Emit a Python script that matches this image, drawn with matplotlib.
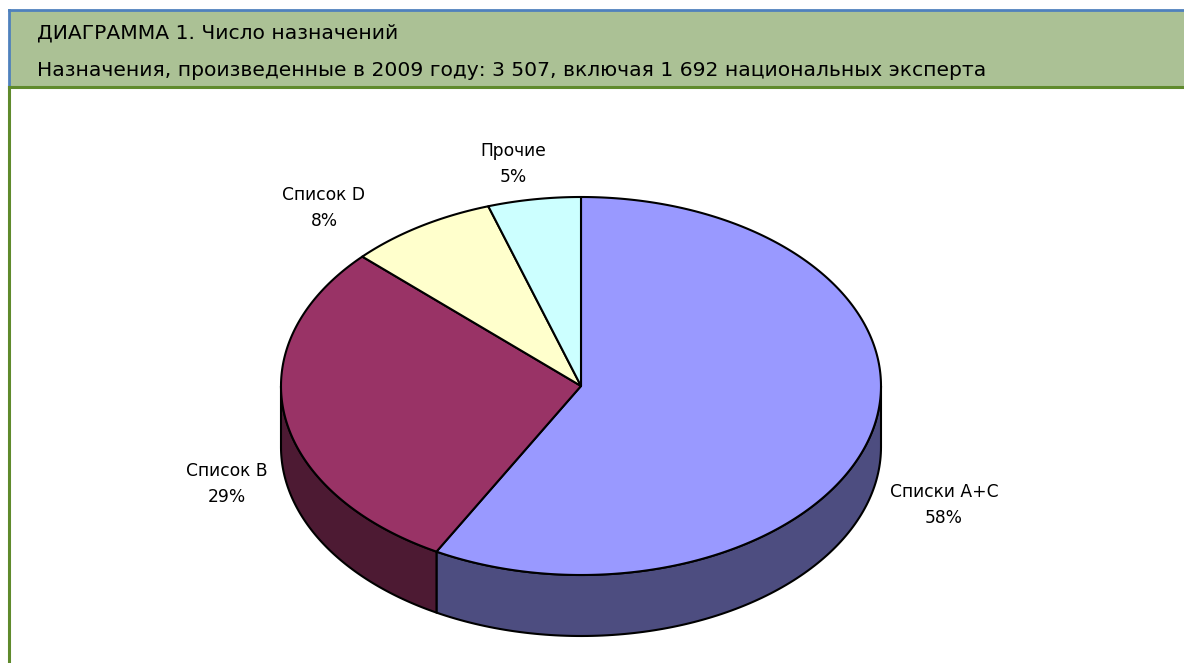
import numpy as np
import matplotlib.pyplot as plt
from matplotlib.patches import Polygon, Rectangle
from matplotlib.colors import to_rgb

# --- Data ---
labels = ["Списки A+C", "Список B", "Список D", "Прочие"]
shares = [58, 29, 8, 5]
top_colors = ["#9999ff", "#993366", "#ffffcc", "#ccffff"]

title_1 = "ДИАГРАММА 1. Число назначений"
title_2 = "Назначения, произведенные в 2009 году: 3 507, включая 1 692 национальных эксперта"

# --- Geometry of the 3D pie (pixel space) ---
W, H = 1184, 663
cx, cy = 581, 386
rx, ry = 300, 189
depth = 61
start_angle = 90.0

fig = plt.figure(figsize=(W / 100, H / 100), dpi=100)
ax = fig.add_axes([0, 0, 1, 1])
ax.set_xlim(0, W)
ax.set_ylim(H, 0)
ax.axis("off")

# header band and frame
ax.add_patch(Rectangle((8.5, 9.5), W, 76.5, facecolor="#abc195", edgecolor="none"))
ax.plot([8.5, W], [9.5, 9.5], color="#4f81bd", lw=2)
ax.plot([8.5, 8.5], [9.5, 86], color="#4f81bd", lw=2)
ax.plot([8.5, W], [86.5, 86.5], color="#5f8a2c", lw=2.2)
ax.plot([8.5, 8.5], [86.5, H], color="#5f8a2c", lw=2.2)

ax.text(37, 39, title_1, fontsize=14.6, family="DejaVu Sans", va="baseline", ha="left")
ax.text(37, 76, title_2, fontsize=14.6, family="DejaVu Sans", va="baseline", ha="left")


def ell(t, dy=0.0):
    r = np.radians(t)
    return cx + rx * np.cos(r), cy - ry * np.sin(r) + dy


def darker(c, f=0.5):
    return tuple(v * f for v in to_rgb(c))


# angle ranges, clockwise from 12 o'clock
total = float(sum(shares))
ranges = []
a = start_angle
for s in shares:
    b = a - s / total * 360.0
    ranges.append((b, a))
    a = b

# side walls (front half only: angles in [180, 360] mod 360)
for (t1, t2), col in zip(ranges, top_colors):
    for lo, hi in [(-180, 0), (180, 360), (-540, -360)]:
        s1, s2 = max(t1, lo), min(t2, hi)
        if s2 <= s1:
            continue
        ts = np.linspace(s1, s2, 120)
        x, y = ell(ts)
        xb, yb = ell(ts[::-1], depth)
        pts = np.column_stack([np.r_[x, xb], np.r_[y, yb]])
        ax.add_patch(Polygon(pts, closed=True, facecolor=darker(col),
                             edgecolor="black", lw=1.5, joinstyle="round"))

# top faces
for (t1, t2), col in zip(ranges, top_colors):
    ts = np.linspace(t1, t2, 300)
    x, y = ell(ts)
    pts = np.column_stack([np.r_[cx, x], np.r_[cy, y]])
    ax.add_patch(Polygon(pts, closed=True, facecolor=col,
                         edgecolor="black", lw=1.5, joinstyle="round"))

# labels: name line and percent line
label_pos = [(944, 492), (227, 471), (324, 195), (513, 151)]
for lab, s, (lx, ly) in zip(labels, shares, label_pos):
    ax.text(lx, ly, lab, fontsize=12.3, family="DejaVu Sans", ha="center", va="center")
    ax.text(lx, ly + 26, f"{s}%", fontsize=12.3, family="DejaVu Sans", ha="center", va="center")

fig.savefig("out.png", dpi=100)
